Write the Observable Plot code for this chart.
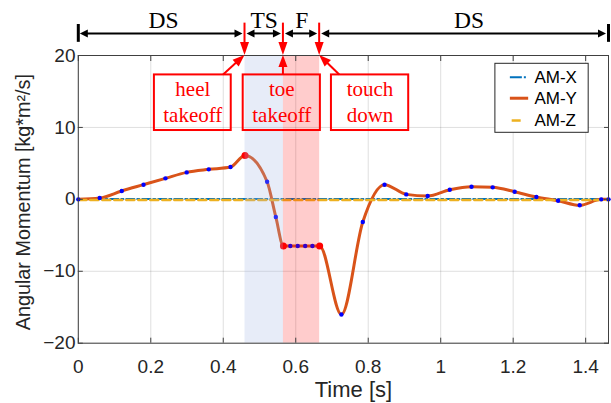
<!DOCTYPE html>
<html>
<head>
<meta charset="utf-8">
<script src="https://cdn.jsdelivr.net/npm/d3@7"></script>
<script src="https://cdn.jsdelivr.net/npm/@observablehq/plot@0.6"></script>
<style>
  html, body { margin: 0; padding: 0; background: #fff; }
  #chart svg { display: block; }
</style>
</head>
<body>
<div id="chart"></div>
<script>
// ---------------- data ----------------
const tEnd = 1.463;
const xTicks = [0, 0.2, 0.4, 0.6, 0.8, 1, 1.2, 1.4];
const yTicks = [-20, -10, 0, 10, 20];

// AM-Y samples (time [s], value)
const amYTime  = [0, 0.059, 0.120, 0.180, 0.2405, 0.299, 0.360, 0.420, 0.460, 0.521, 0.545, 0.566,
                  0.585, 0.6055, 0.626, 0.646, 0.666, 0.726, 0.785, 0.845, 0.905, 0.964, 1.025,
                  1.085, 1.1435, 1.204, 1.264, 1.324, 1.3835, 1.443, 1.463];
const amYValue = [0, 0.18, 1.16, 2.04, 2.92, 3.75, 4.17, 4.49, 6.11, 2.45, -2.45, -6.48,
                  -6.48, -6.48, -6.48, -6.48, -6.48, -16.02, -3.15, 2.04, 0.69, 0.46, 1.34,
                  1.76, 1.67, 1.06, 0.32, -0.19, -0.83, 0, 0];
// AM-X and AM-Z stay at about zero
const amXTime = [0, 1.463];
const amXValue = [0.05, 0.05];
const amZTime = [0, 1.463];
const amZValue = [-0.08, -0.08];

// gait events
const eventTimes  = [0.460, 0.566, 0.666];
const eventValues = [6.11, -6.48, -6.48];
const eventNotes  = ["heel\ntakeoff", "toe\ntakeoff", "touch\ndown"];

// gait phases
const phaseLabels = ["DS", "TS", "F", "DS"];
const phaseStart  = [0, 0.460, 0.566, 0.666];
const phaseEnd    = [0.460, 0.566, 0.666, 1.463];

// legend
const legendNames  = ["AM-X", "AM-Y", "AM-Z"];
const legendColors = ["#0072BD", "#D95319", "#EDB120"];

// ---------------- layout constants (data units) ----------------
const phaseLabelX = [0.235, 0.513, 0.617, 1.078];
const phaseLabelY = 23.85;
const phaseArrowY = 23.0;
const endBarY1 = 21.83, endBarY2 = 24.31;
const eventArrowTopY = 24.5;
const noteBoxX1 = [0.210, 0.455, 0.6985];
const noteBoxX2 = [0.422, 0.668, 0.9117];
const noteBoxY1 = 9.57, noteBoxY2 = 17.3;
const noteTextY = 13.66;
const noteTextX = [0.316, 0.5615, 0.805];
const noteArrowFromX = [0.401, 0.566, 0.7214];
const legendBox = {x1: 1.1509, x2: 1.4083, y1: 9.253, y2: 18.846};
const legendRowY = [16.98, 14.06, 10.96];
const legendSampleX1 = 1.1922, legendSampleX2 = 1.2427;
const legendTextX = 1.2585;

// ---------------- tables ----------------
const amY = amYTime.map((t, i) => ({t, v: amYValue[i]}));
const amX = amXTime.map((t, i) => ({t, v: amXValue[i]}));
const amZ = amZTime.map((t, i) => ({t, v: amZValue[i]}));
const events = eventTimes.map((t, i) => ({t, v: eventValues[i]}));

const arrowSpecs = [];
phaseStart.forEach((s, i) => arrowSpecs.push({x1: s, y1: phaseArrowY, x2: phaseEnd[i], y2: phaseArrowY,
  both: true, inset: 2, head: 8, headWidth: 8, color: "#000", width: 2}));
eventTimes.forEach(t => arrowSpecs.push({x1: t, y1: eventArrowTopY, x2: t, y2: 20,
  both: false, inset: 0, head: 13, headWidth: 9, color: "#FF0000", width: 2}));
eventTimes.forEach((t, i) => arrowSpecs.push({x1: noteArrowFromX[i], y1: noteBoxY2, x2: t, y2: 20,
  both: false, inset: 0, head: 12, headWidth: 9, color: "#FF0000", width: 2}));

function arrowsMark(specs) {
  return (index, scales) => {
    const g = d3.create("svg:g");
    for (const a of specs) {
      let x1 = scales.x(a.x1), y1 = scales.y(a.y1), x2 = scales.x(a.x2), y2 = scales.y(a.y2);
      const len = Math.hypot(x2 - x1, y2 - y1);
      const ux = (x2 - x1) / len, uy = (y2 - y1) / len;
      x1 += ux * a.inset; y1 += uy * a.inset; x2 -= ux * a.inset; y2 -= uy * a.inset;
      const sh = a.head * 0.6;
      const sx1 = a.both ? x1 + ux * sh : x1, sy1 = a.both ? y1 + uy * sh : y1;
      const sx2 = x2 - ux * sh, sy2 = y2 - uy * sh;
      g.append("line").attr("x1", sx1).attr("y1", sy1).attr("x2", sx2).attr("y2", sy2)
        .attr("stroke", a.color).attr("stroke-width", a.width);
      const heads = a.both ? [[x2, y2, ux, uy], [x1, y1, -ux, -uy]] : [[x2, y2, ux, uy]];
      for (const [tx, ty, vx, vy] of heads) {
        const bx = tx - vx * a.head, by = ty - vy * a.head, w = a.headWidth / 2;
        g.append("path")
          .attr("d", `M${tx},${ty}L${bx - vy * w},${by + vx * w}L${bx + vy * w},${by - vx * w}Z`)
          .attr("fill", a.color);
      }
    }
    return g.node();
  };
}

const fmt = d3.format("~g");
const serif = "'Liberation Serif', 'Times New Roman', serif";
const axisColor = "#404040";

const chart = Plot.plot({
  width: 611,
  height: 403,
  marginTop: 55,
  marginBottom: 60.3,
  marginLeft: 77.8,
  marginRight: 3,
  style: {fontFamily: "'Liberation Sans', Arial, sans-serif", color: "#262626", background: "#fff", overflow: "visible"},
  x: {domain: [0, tEnd]},
  y: {domain: [-20, 20]},
  marks: [
    Plot.gridX(xTicks, {stroke: "#262626", strokeOpacity: 0.15}),
    Plot.gridY(yTicks, {stroke: "#262626", strokeOpacity: 0.15}),
    Plot.line(amX, {x: "t", y: "v", stroke: legendColors[0], strokeWidth: 2, strokeDasharray: "8,3,2,3"}),
    Plot.line(amY, {x: "t", y: "v", stroke: legendColors[1], strokeWidth: 3, curve: "monotone-x"}),
    Plot.line(amZ, {x: "t", y: "v", stroke: legendColors[2], strokeWidth: 2.5, strokeDasharray: "8,4"}),
    Plot.dot(amY, {x: "t", y: "v", r: 2.2, fill: "#0000FF"}),
    Plot.dot(events, {x: "t", y: "v", r: 3.5, fill: "#FF0000"}),
    // phase shading
    Plot.rect([0], {x1: eventTimes[0], x2: eventTimes[1], y1: -20, y2: 20, fill: "rgb(159,179,227)", fillOpacity: 0.25}),
    Plot.rect([0], {x1: eventTimes[1], x2: eventTimes[2], y1: -20, y2: 20, fill: "#FF0000", fillOpacity: 0.2}),
    // axes
    Plot.frame({stroke: axisColor, strokeWidth: 1}),
    Plot.axisX(xTicks, {anchor: "bottom", tickSize: -5, tickPadding: 21, tickFormat: fmt, fontSize: 19, label: null, stroke: axisColor}),
    Plot.axisX(xTicks, {anchor: "top", tickSize: -5, tickFormat: () => "", label: null, stroke: axisColor}),
    Plot.axisY(yTicks, {anchor: "left", tickSize: -5, tickPadding: 7.8, tickFormat: fmt, fontSize: 19, label: null, stroke: axisColor}),
    Plot.axisY(yTicks, {anchor: "right", tickSize: -5, tickFormat: () => "", label: null, stroke: axisColor}),
    Plot.text(["Time [s]"], {frameAnchor: "bottom", textAnchor: "middle", dx: 10, dy: 54, lineAnchor: "bottom", fontSize: 22, fill: "#262626"}),
    Plot.text(["Angular Momentum [kg*m²/s]"], {frameAnchor: "left", textAnchor: "middle", lineAnchor: "middle", rotate: -90, dx: -54.5, dy: 2.8, fontSize: 19.8, fill: "#262626"}),
    // legend
    Plot.rect([0], {...legendBox, fill: "#fff", stroke: "#262626", strokeWidth: 1}),
    Plot.ruleY([legendRowY[0]], {x1: legendSampleX1, x2: legendSampleX2, stroke: legendColors[0], strokeWidth: 2, strokeDasharray: "12,2,2,20"}),
    Plot.ruleY([legendRowY[1]], {x1: legendSampleX1, x2: legendSampleX2, stroke: legendColors[1], strokeWidth: 3}),
    Plot.ruleY([legendRowY[2]], {x1: legendSampleX1 + 0.005, x2: legendSampleX2, stroke: legendColors[2], strokeWidth: 2.5, strokeDasharray: "9,20"}),
    Plot.text(legendNames, {x: legendTextX, y: (d, i) => legendRowY[i], text: d => d, textAnchor: "start", fontSize: 17, fill: "#000"}),
    // phase annotations
    Plot.ruleX([0, tEnd], {x: d => d, y1: endBarY1, y2: endBarY2, stroke: "#000", strokeWidth: 3}),
    Plot.text(phaseLabels, {x: (d, i) => phaseLabelX[i], y: phaseLabelY, text: d => d, lineAnchor: "bottom", fontFamily: serif, fontSize: 23.5, fill: "#000"}),
    Plot.rect(eventNotes, {x1: (d, i) => noteBoxX1[i], x2: (d, i) => noteBoxX2[i], y1: noteBoxY1, y2: noteBoxY2, fill: "none", stroke: "#FF0000", strokeWidth: 2}),
    Plot.text(eventNotes, {x: (d, i) => noteTextX[i], y: noteTextY, text: d => d, fontFamily: serif, fontSize: 21, lineHeight: 1.224, fill: "#FF0000"}),
    arrowsMark(arrowSpecs)
  ]
});
document.getElementById("chart").appendChild(chart);
</script>
</body>
</html>
